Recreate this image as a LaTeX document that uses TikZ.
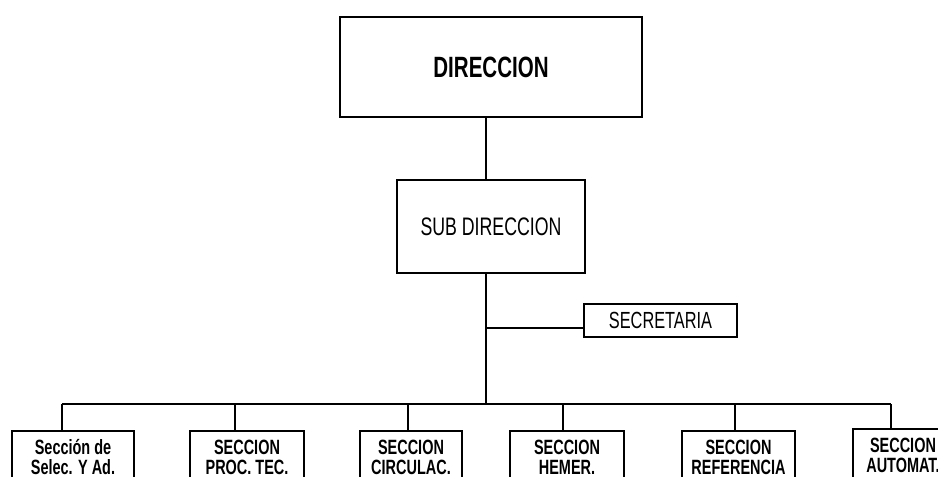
\documentclass[tikz,border=0pt]{standalone}
\usepackage{fontspec}
\setmainfont[FakeStretch=0.7]{Liberation Sans}
\begin{document}
\begin{tikzpicture}
  [x=0.75pt,y=-0.75pt,
   box/.style={draw,line width=1.5pt,rectangle,inner sep=0pt},
   sect/.style={box,anchor=north,minimum height=39pt,align=center,
     font=\fontsize{15.5}{15}\selectfont\bfseries},
   link/.style={line width=2.2pt}]
  \useasboundingbox (0,0) rectangle (938,477);
  \clip (0,0) rectangle (938,477);

  \node[box,minimum width=226.5pt,minimum height=75pt,
    font=\fontsize{22}{24}\selectfont\bfseries] (dir) at (491,67) {DIRECCION};
  \node[box,minimum width=141pt,minimum height=69.75pt,
    font=\fontsize{19}{21}\selectfont] (sub) at (491,226.5) {SUB DIRECCION};
  \node[box,minimum width=114.75pt,minimum height=24.75pt,
    font=\fontsize{17.5}{18}\selectfont] (sec) at (660.5,320.5) {SECRETARIA};

  \node[sect,minimum width=91.5pt] (s1) at (73,430) {Sección de\\Selec. Y Ad.};
  \node[sect,minimum width=85.5pt] (s2) at (247,430) {SECCION\\PROC. TEC.};
  \node[sect,minimum width=76.5pt] (s3) at (411,430) {SECCION\\CIRCULAC.};
  \node[sect,minimum width=85.5pt] (s4) at (567,430) {SECCION\\HEMER.};
  \node[sect,minimum width=84.75pt] (s5) at (738.5,430) {SECCION\\REFERENCIA};
  \node[sect,minimum width=75pt] (s6) at (903,428) {SECCION\\AUTOMAT.};

  \coordinate (t) at (486,404);
  \coordinate (sb) at (486,328);
  \coordinate (b1) at (62,404);
  \coordinate (b2) at (235,404);
  \coordinate (b3) at (408,404);
  \coordinate (b4) at (563,404);
  \coordinate (b5) at (735,404);
  \coordinate (b6) at (891,404);

  \draw[link] (dir.south -| t) -- (sub.north -| t);
  \draw[link] (sub.south -| t) -- (t);
  \draw[link] (sb) -- (sb -| sec.west);
  \draw[link] (b1) -- (b6);

  \foreach \bus/\sec in {b1/s1,b2/s2,b3/s3,b4/s4,b5/s5,b6/s6}
    \draw[link] (\bus) -- (\bus |- \sec.north);

\end{tikzpicture}
\end{document}
